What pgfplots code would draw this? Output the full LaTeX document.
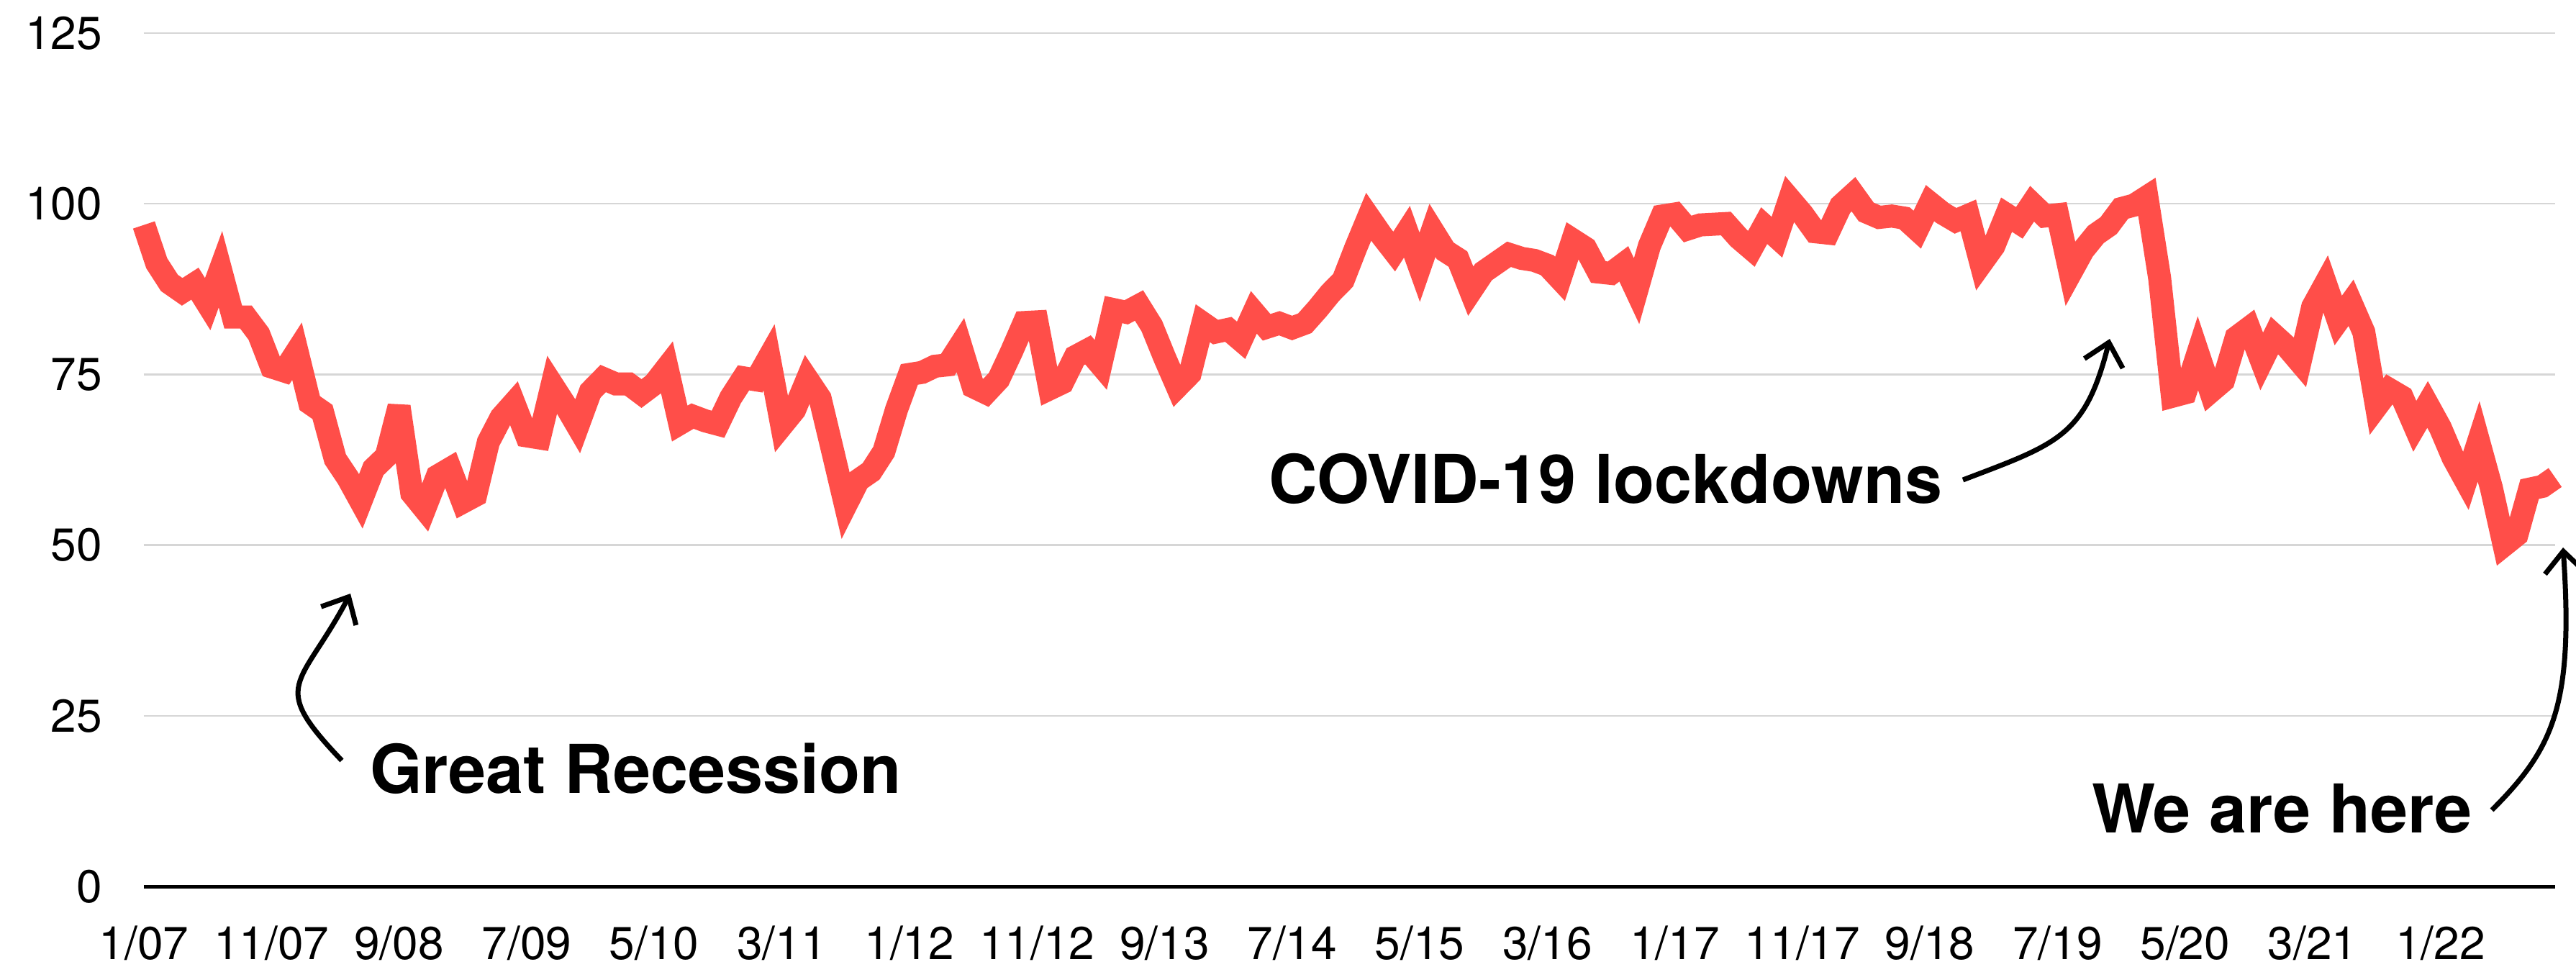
\documentclass[border=0pt]{standalone}
\usepackage{fontspec}
\setmainfont{TeX Gyre Heros}
\usepackage{pgfplots}
\pgfplotsset{compat=1.18}
\usetikzlibrary{arrows.meta}
\definecolor{linered}{RGB}{255,78,73}
\definecolor{gridgray}{RGB}{214,214,214}
\begin{document}
\begin{tikzpicture}
\begin{axis}[
  at={(0pt,0pt)}, anchor=south west,
  scale only axis, width=670.2pt, height=237.2pt,
  xmin=0, xmax=189, ymin=0, ymax=125,
  clip=false,
  axis line style={draw=none},
  major tick length=0pt,
  ymajorgrids, grid style={gridgray, line width=0.5pt},
  xtick={0,10,...,180},
  xticklabels={1/07,11/07,9/08,7/09,5/10,3/11,1/12,11/12,9/13,7/14,5/15,3/16,1/17,11/17,9/18,7/19,5/20,3/21,1/22},
  ytick={0,25,50,75,100,125},
  yticklabels={0,25,50,75,100,125},
  ticklabel style={font=\fontsize{12.8}{15}\selectfont},
  xticklabel style={anchor=base, inner sep=0pt, yshift=-20.2pt},
  yticklabel style={anchor=east, inner sep=0pt, xshift=-11.4pt},
]
\addplot[linered, line width=6.4pt, line join=miter, miter limit=4, line cap=butt] table[x=i, y=v] {
i v
0 96.9
1 91.3
2 88.4
3 87.1
4 88.3
5 85.3
6 90.4
7 83.4
8 83.4
9 80.9
10 76.1
11 75.5
12 78.4
13 70.8
14 69.5
15 62.6
16 59.8
17 56.4
18 61.2
19 63.0
20 70.3
21 57.6
22 55.3
23 60.1
24 61.2
25 56.3
26 57.3
27 65.1
28 68.7
29 70.8
30 66.0
31 65.7
32 73.5
33 70.6
34 67.4
35 72.5
36 74.4
37 73.6
38 73.6
39 72.2
40 73.6
41 76.0
42 67.8
43 68.9
44 68.2
45 67.7
46 71.6
47 74.5
48 74.2
49 77.5
50 67.5
51 69.8
52 74.3
53 71.5
54 63.7
55 55.8
56 59.5
57 60.8
58 63.7
59 69.9
60 75.0
61 75.3
62 76.2
63 76.4
64 79.3
65 73.2
66 72.3
67 74.3
68 78.3
69 82.6
70 82.7
71 72.9
72 73.8
73 77.6
74 78.6
75 76.4
76 84.5
77 84.1
78 85.1
79 82.1
80 77.5
81 73.2
82 75.1
83 82.5
84 81.2
85 81.6
86 80.0
87 84.1
88 81.9
89 82.5
90 81.8
91 82.5
92 84.6
93 86.9
94 88.8
95 93.6
96 98.1
97 95.4
98 93.0
99 95.9
100 90.7
101 96.1
102 93.1
103 91.9
104 87.2
105 90.0
106 91.3
107 92.6
108 92.0
109 91.7
110 91.0
111 89.0
112 94.7
113 93.5
114 90.0
115 89.8
116 91.2
117 87.2
118 93.8
119 98.2
120 98.5
121 96.3
122 96.9
123 97.0
124 97.1
125 95.0
126 93.4
127 96.8
128 95.1
129 100.7
130 98.5
131 95.9
132 95.7
133 99.7
134 101.4
135 98.8
136 98.0
137 98.2
138 97.9
139 96.2
140 100.1
141 98.6
142 97.5
143 98.3
144 91.2
145 93.8
146 98.4
147 97.2
148 100.0
149 98.2
150 98.4
151 89.8
152 93.2
153 95.5
154 96.8
155 99.3
156 99.8
157 101.0
158 89.1
159 71.8
160 72.3
161 78.1
162 72.5
163 74.1
164 80.4
165 81.8
166 76.9
167 80.7
168 79.0
169 76.8
170 84.9
171 88.3
172 82.9
173 85.5
174 81.2
175 70.3
176 72.8
177 71.7
178 67.4
179 70.6
180 67.2
181 62.8
182 59.4
183 65.2
184 58.4
185 50.0
186 51.5
187 58.2
188 58.6
189 59.9
};
\draw[black, line width=1pt] (axis cs:0,0) -- (axis cs:189,0);
\end{axis}
% annotations (pt relative to plot-area origin)
\node[anchor=base west, inner sep=0pt, font=\fontsize{18.7}{22}\selectfont\bfseries] at (62.6pt,26pt) {Great Recession};
\node[anchor=base west, inner sep=0pt, font=\fontsize{18.7}{22}\selectfont\bfseries] at (312.4pt,106.6pt) {COVID-19 lockdowns};
\node[anchor=base west, inner sep=0pt, font=\fontsize{18.7}{22}\selectfont\bfseries] at (541.2pt,15pt) {We are here};
\draw[line width=1.4pt, -{Straight Barb[length=6pt,width=11pt]}] (55pt,35pt) .. controls (34.4pt,56.6pt) and (43.4pt,55pt) .. (57.4pt,81.4pt);
\draw[line width=1.4pt, -{Straight Barb[length=6pt,width=11pt]}] (505.6pt,113pt) .. controls (531.8pt,123pt) and (539.6pt,125pt) .. (546.4pt,152.2pt);
\draw[line width=1.4pt, -{Straight Barb[length=6pt,width=11pt]}] (652.6pt,21.2pt) .. controls (669.6pt,38.2pt) and (675.4pt,50.2pt) .. (672.4pt,94.2pt);
\pgfresetboundingbox
\path[use as bounding box] (-40pt,-22.2pt) rectangle (676pt,246.4pt);
\end{tikzpicture}
\end{document}
